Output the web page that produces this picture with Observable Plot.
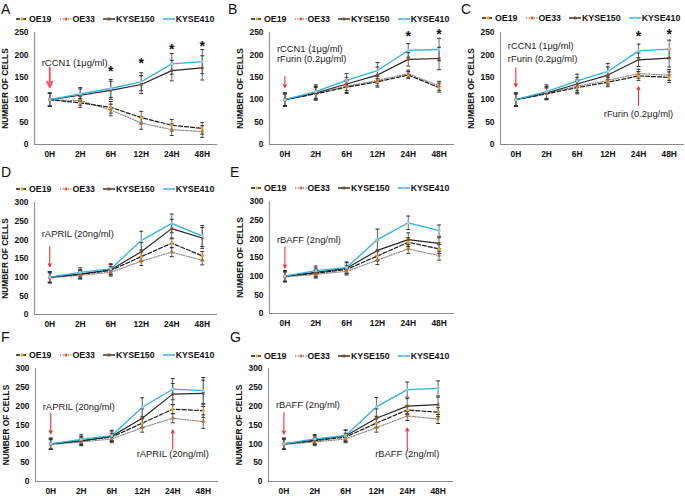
<!DOCTYPE html>
<html><head><meta charset="utf-8">
<script src="https://cdn.jsdelivr.net/npm/d3@7"></script>
<script src="https://cdn.jsdelivr.net/npm/@observablehq/plot@0.6"></script>
<style>
body{margin:0;background:#fff;}
#fig{position:relative;width:685px;height:496px;overflow:hidden;font-family:"Liberation Sans",Arial,sans-serif;background:#fff;}
.letter{position:absolute;font-size:14px;line-height:1;color:#111;}
.legend{position:absolute;display:flex;align-items:center;font-size:8.8px;font-weight:bold;white-space:nowrap;transform:translateY(-50%);color:#111;}
.legend .item{display:flex;align-items:center;margin-right:8px;}
.legend svg{margin-right:1px;display:block;}
.panel{position:absolute;}
.panel svg{background:transparent !important;overflow:visible;}
</style></head><body><div id="fig"></div>
<script>
const times = ["0H","2H","6H","12H","24H","48H"];
const seriesNames = ["OE19","OE33","KYSE150","KYSE410"];
const yTicks250 = [0,50,100,150,200,250];
const yTicks300 = [0,50,100,150,200,250,300];

// Panel A
const A_OE19 = [100, 93, 83, 60, 43, 36];
const A_OE33 = [100, 98, 77, 48, 33, 29];
const A_KYSE150 = [100, 110, 121, 134, 165, 171];
const A_KYSE410 = [100, 113, 125, 140, 180, 185];
const A_errOE = [14, 10, 13, 14, 13, 13];
const A_errKYSE = [15, 14, 20, 20, 23, 27];
const A_notes = [{time:"0H", value:183, label:"rCCN1 (1μg/ml)"}];
const A_arrows = [{time:"0H", from:172, to:128}];
const A_stars = [{time:"6H", value:163},{time:"12H", value:180},{time:"24H", value:211},{time:"48H", value:218}];

// Panel B
const B_OE19 = [100, 113, 128, 140, 155, 127];
const B_OE33 = [100, 115, 130, 143, 158, 131];
const B_KYSE150 = [100, 115, 135, 155, 190, 192];
const B_KYSE410 = [100, 118, 143, 165, 210, 212];
const B_errOE = [13, 14, 14, 12, 8, 10];
const B_errKYSE = [15, 15, 15, 18, 15, 25];
const B_notes = [{time:"0H", value:214, label:"rCCN1 (1μg/ml)"},{time:"0H", value:190, label:"rFurin (0.2μg/ml)"}];
const B_arrows = [{time:"0H", from:152, to:127}];
const B_stars = [{time:"24H", value:240},{time:"48H", value:245}];

// Panel C
const C_OE19 = [100, 113, 127, 139, 153, 150];
const C_OE33 = [100, 115, 130, 143, 158, 155];
const C_KYSE150 = [100, 115, 135, 155, 189, 193];
const C_KYSE410 = [100, 118, 142, 163, 209, 213];
const C_errOE = [13, 13, 14, 10, 10, 12];
const C_errKYSE = [15, 15, 15, 18, 15, 20];
const C_notes = [{time:"0H", value:219, label:"rCCN1 (1μg/ml)"},{time:"0H", value:191, label:"rFurin (0.2μg/ml)"},{time:"24H", value:68, label:"rFurin (0.2μg/ml)"}];
const C_arrows = [{time:"0H", from:171, to:129},{time:"24H", from:87, to:129}];
const C_stars = [{time:"24H", value:241},{time:"48H", value:245}];

// Panel D
const D_OE19 = [100, 108, 118, 155, 191, 157];
const D_OE33 = [98, 105, 113, 143, 167, 145];
const D_KYSE150 = [100, 108, 120, 168, 230, 205];
const D_KYSE410 = [100, 113, 122, 198, 244, 210];
const D_errOE = [13, 10, 10, 12, 12, 12];
const D_errKYSE = [15, 12, 14, 25, 25, 28];
const D_notes = [{time:"0H", value:215, label:"rAPRIL (20ng/ml)"}];
const D_arrows = [{time:"0H", from:183, to:128}];

// Panel E
const E_OE19 = [100, 108, 118, 154, 191, 173];
const E_OE33 = [98, 105, 113, 143, 173, 155];
const E_KYSE150 = [100, 110, 121, 169, 198, 188];
const E_KYSE410 = [100, 115, 123, 198, 243, 222];
const E_errOE = [13, 10, 10, 12, 12, 12];
const E_errKYSE = [15, 12, 15, 28, 18, 15];
const E_notes = [{time:"0H", value:197, label:"rBAFF (2ng/ml)"}];
const E_arrows = [{time:"0H", from:178, to:122}];

// Panel F
const F_OE19 = [100, 108, 118, 155, 192, 188];
const F_OE33 = [98, 105, 113, 143, 168, 159];
const F_KYSE150 = [100, 108, 120, 168, 232, 234];
const F_KYSE410 = [100, 112, 122, 197, 245, 241];
const F_errOE = [13, 10, 10, 12, 12, 18];
const F_errKYSE = [15, 12, 14, 25, 28, 35];
const F_notes = [{time:"0H", value:199, label:"rAPRIL (20ng/ml)"},{time:"24H", value:73, label:"rAPRIL (20ng/ml)"}];
const F_arrows = [{time:"0H", from:181, to:127},{time:"24H", from:86, to:137}];

// Panel G
const G_OE19 = [100, 108, 118, 155, 190, 184];
const G_OE33 = [98, 105, 113, 143, 174, 166];
const G_KYSE150 = [100, 110, 121, 168, 200, 204];
const G_KYSE410 = [100, 113, 122, 198, 244, 247];
const G_errOE = [13, 10, 10, 12, 12, 12];
const G_errKYSE = [15, 12, 15, 25, 20, 20];
const G_notes = [{time:"0H", value:202, label:"rBAFF (2ng/ml)"},{time:"24H", value:73, label:"rBAFF (2ng/ml)"}];
const G_arrows = [{time:"0H", from:183, to:126},{time:"24H", from:82, to:142}];

const styles = {
  OE19:    {stroke:"#1a1a1a", dash:"4,2",     marker:"#f4a21d", width:1.2},
  OE33:    {stroke:"#8a8a8a", dash:"1.2,1.4", marker:"#d9661e", width:1.2},
  KYSE150: {stroke:"#262626", dash:null,      marker:"#8b4a2b", width:1.2},
  KYSE410: {stroke:"#2ab4ea", dash:null,      marker:"#a9c8da", width:1.3}
};

const panels = [
  {id:"A", left:0,   top:22,  width:230, mL:34, mR:13, plotH:112, yTicks:yTicks250, data:[A_OE19,A_OE33,A_KYSE150,A_KYSE410], errOE:A_errOE, errK:A_errKYSE, notes:A_notes, arrows:A_arrows, stars:A_stars, legendX:16, legendY:19, letterX:1, letterY:2, arrowW:2, arrowC:"#f25a6a"},
  {id:"B", left:230, top:22,  width:230, mL:39, mR:6,  plotH:112, yTicks:yTicks250, data:[B_OE19,B_OE33,B_KYSE150,B_KYSE410], errOE:B_errOE, errK:B_errKYSE, notes:B_notes, arrows:B_arrows, stars:B_stars, legendX:251, legendY:19, letterX:228, letterY:2},
  {id:"C", left:460, top:22,  width:225, mL:40, mR:1,  plotH:112, yTicks:yTicks250, data:[C_OE19,C_OE33,C_KYSE150,C_KYSE410], errOE:C_errOE, errK:C_errKYSE, notes:C_notes, arrows:C_arrows, stars:C_stars, legendX:482, legendY:18, letterX:461, letterY:2},
  {id:"D", left:0,   top:192, width:230, mL:34, mR:13, plotH:112, yTicks:yTicks300, data:[D_OE19,D_OE33,D_KYSE150,D_KYSE410], errOE:D_errOE, errK:D_errKYSE, notes:D_notes, arrows:D_arrows, stars:[], legendX:16, legendY:189, letterX:1, letterY:165},
  {id:"E", left:230, top:191, width:230, mL:39, mR:6,  plotH:112, yTicks:yTicks300, data:[E_OE19,E_OE33,E_KYSE150,E_KYSE410], errOE:E_errOE, errK:E_errKYSE, notes:E_notes, arrows:E_arrows, stars:[], legendX:251, legendY:188, letterX:230, letterY:165},
  {id:"F", left:0,   top:358, width:230, mL:35, mR:12, plotH:113, yTicks:yTicks300, data:[F_OE19,F_OE33,F_KYSE150,F_KYSE410], errOE:F_errOE, errK:F_errKYSE, notes:F_notes, arrows:F_arrows, stars:[], legendX:16, legendY:355, letterX:1, letterY:330},
  {id:"G", left:230, top:358, width:230, mL:38, mR:7,  plotH:113, yTicks:yTicks300, data:[G_OE19,G_OE33,G_KYSE150,G_KYSE410], errOE:G_errOE, errK:G_errKYSE, notes:G_notes, arrows:G_arrows, stars:[], legendX:251, legendY:356, letterX:230, letterY:330}
];

const capSymbol = {draw(ctx, size){ const r = Math.sqrt(size)/2; ctx.moveTo(-r,0); ctx.lineTo(r,0); }};
const tIndex = (t) => times.indexOf(t);
const fig = document.getElementById("fig");

function legendSwatch(s){
  const st = styles[s];
  const ns = "http://www.w3.org/2000/svg";
  const svg = document.createElementNS(ns, "svg");
  svg.setAttribute("width", 12); svg.setAttribute("height", 8);
  const line = document.createElementNS(ns, "line");
  line.setAttribute("x1", 0); line.setAttribute("x2", 12); line.setAttribute("y1", 4); line.setAttribute("y2", 4);
  line.setAttribute("stroke", st.stroke); line.setAttribute("stroke-width", st.width + 0.2);
  if (st.dash) line.setAttribute("stroke-dasharray", st.dash);
  svg.appendChild(line);
  const r = document.createElementNS(ns, "rect");
  r.setAttribute("x", 4.6); r.setAttribute("y", 2.6); r.setAttribute("width", 2.8); r.setAttribute("height", 2.8);
  r.setAttribute("fill", st.marker);
  svg.appendChild(r);
  return svg;
}

for (const p of panels) {
  const rows = [];
  seriesNames.forEach((s, k) => {
    const vals = p.data[k];
    const errs = s.startsWith("OE") ? p.errOE : p.errK;
    vals.forEach((v, i) => rows.push({series:s, t:i, v, e:errs[i]}));
  });
  const marginTop = 10, marginBottom = 18;
  const marks = [
    Plot.ruleY([0], {stroke:"#8a8a8a", strokeWidth:1.2}),
    Plot.ruleX([-0.5], {stroke:"#9a9a9a", strokeWidth:1.2})
  ];
  for (const s of ["OE33","OE19","KYSE150","KYSE410"]) {
    const st = styles[s];
    marks.push(Plot.line(rows.filter(d => d.series === s), {x:"t", y:"v", stroke:st.stroke, strokeWidth:st.width, strokeDasharray:st.dash || undefined}));
  }
  marks.push(
    Plot.ruleX(rows, {x:"t", y1:d => d.v - d.e, y2:d => d.v + d.e, stroke:"#6e6e6e", strokeWidth:1}),
    Plot.dot(rows, {x:"t", y:d => d.v + d.e, symbol:capSymbol, r:2.2, fill:"none", stroke:"#333", strokeWidth:1}),
    Plot.dot(rows, {x:"t", y:d => d.v - d.e, symbol:capSymbol, r:2.2, fill:"none", stroke:"#333", strokeWidth:1})
  );
  for (const s of seriesNames) {
    marks.push(Plot.dot(rows.filter(d => d.series === s), {x:"t", y:"v", symbol:"square", r:1.5, fill:styles[s].marker, stroke:"none"}));
  }
  marks.push(
    Plot.arrow(p.arrows, {x1:d => tIndex(d.time), x2:d => tIndex(d.time), y1:"from", y2:"to", stroke:p.arrowC || "#f03030", strokeWidth:p.arrowW || 1.1, headLength:4.5, headAngle:50}),
    Plot.text(p.notes.filter(d => d.time === "0H"), {x:d => tIndex(d.time), y:"value", text:"label", textAnchor:"start", dx:-8, fontSize:9.4, fill:"#222"}),
    Plot.text(p.notes.filter(d => d.time !== "0H"), {x:d => tIndex(d.time), y:"value", text:"label", textAnchor:"middle", fontSize:9.4, fill:"#222"}),
    Plot.text(p.stars, {x:d => tIndex(d.time), y:"value", text:() => "*", fontSize:14, fontWeight:"bold", dy:0, fill:"#111"}),
    Plot.axisY({ticks:p.yTicks, tickSize:0, tickPadding:6, fontWeight:"bold", fontSize:8.4, label:"NUMBER OF CELLS", labelAnchor:"center", labelOffset:32, labelArrow:"none"}),
    Plot.axisX({ticks:times.map((_, i) => i), tickFormat:i => times[i], tickSize:0, tickPadding:7, fontWeight:"bold", fontSize:8.4, label:null})
  );
  const chart = Plot.plot({
    width:p.width,
    height:marginTop + p.plotH + marginBottom,
    marginLeft:p.mL, marginRight:p.mR, marginTop, marginBottom,
    style:{fontFamily:'"Liberation Sans", Arial, sans-serif', color:"#111", background:"transparent"},
    x:{type:"linear", domain:[-0.5, times.length - 0.5], label:null},
    y:{domain:[0, p.yTicks[p.yTicks.length - 1]], label:null},
    marks
  });
  const wrap = document.createElement("div");
  wrap.className = "panel";
  wrap.style.left = p.left + "px"; wrap.style.top = p.top + "px";
  wrap.appendChild(chart);
  fig.appendChild(wrap);

  const lg = document.createElement("div");
  lg.className = "legend";
  lg.style.left = p.legendX + "px"; lg.style.top = p.legendY + "px";
  for (const s of seriesNames) {
    const it = document.createElement("div");
    it.className = "item";
    it.appendChild(legendSwatch(s));
    const tx = document.createElement("span");
    tx.textContent = s;
    it.appendChild(tx);
    lg.appendChild(it);
  }
  fig.appendChild(lg);

  const le = document.createElement("div");
  le.className = "letter";
  le.textContent = p.id;
  le.style.left = p.letterX + "px"; le.style.top = p.letterY + "px";
  fig.appendChild(le);
}
</script></body></html>
